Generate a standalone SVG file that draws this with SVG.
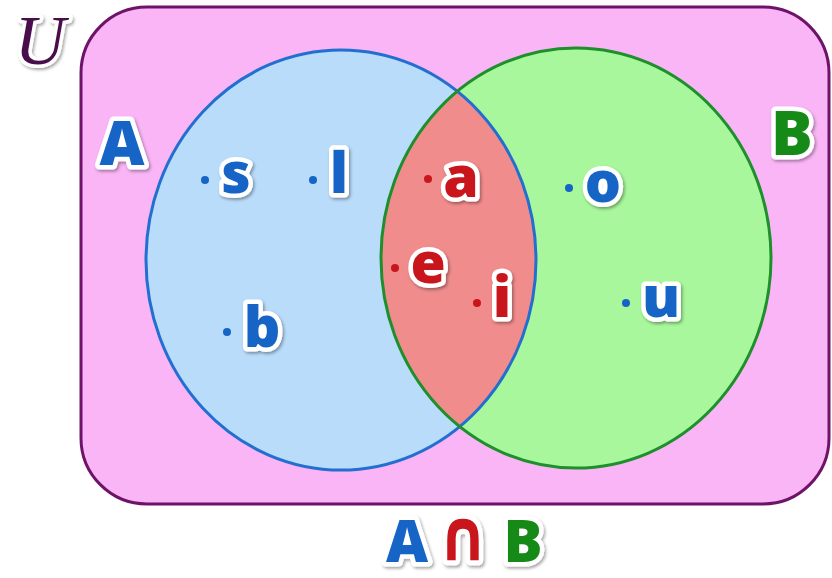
<svg xmlns="http://www.w3.org/2000/svg" width="832" height="578" viewBox="0 0 832 578">
<defs>
<filter id="sh" x="-30%" y="-30%" width="160%" height="160%">
<feDropShadow dx="1.5" dy="2" stdDeviation="1.5" flood-color="#000" flood-opacity="0.35"/>
</filter>
<clipPath id="clipA"><ellipse cx="341" cy="260" rx="195" ry="210"/></clipPath>
</defs>
<style>
.lbl{font-family:"Open Sans","Liberation Sans",sans-serif;font-weight:800;text-anchor:middle;paint-order:stroke;stroke:#fff;stroke-width:9;stroke-linejoin:round;filter:url(#sh)}
.blue{fill:#1565c6}
.red{fill:#c8161c}
.green{fill:#158a18}
.dotb{fill:#1565c6}
.dotr{fill:#c8161c}
</style>
<rect x="81" y="7" width="748" height="497" rx="66" ry="66" fill="#f9b5f5" stroke="#6e1468" stroke-width="3"/>
<g id="U"><text x="40" y="64" font-family="Liberation Serif,serif" font-style="italic" font-size="70" text-anchor="middle" fill="#4a0b4c" stroke="#fff" stroke-width="7" paint-order="stroke" stroke-linejoin="round" filter="url(#sh)">U</text></g>
<g id="setA"><ellipse cx="341" cy="260" rx="195" ry="210" fill="#b9dcfb"/></g>
<g id="setB"><ellipse cx="576" cy="258" rx="195" ry="210" fill="#a8f79c"/></g>
<g id="lens"><ellipse cx="576" cy="258" rx="195" ry="210" fill="#f18c8c" clip-path="url(#clipA)"/></g>
<g id="outlines" fill="none" stroke-width="3">
<ellipse cx="341" cy="260" rx="195" ry="210" stroke="#236fd0"/>
<ellipse cx="576" cy="258" rx="195" ry="210" stroke="#1d8f2b"/>
</g>
<g id="labelA"><text class="lbl blue" x="122" y="165" font-size="62">A</text></g>
<g id="labelB"><text class="lbl green" x="792" y="155" font-size="62">B</text></g>
<g id="s"><circle class="dotb" cx="205" cy="180" r="4"/><text class="lbl blue" x="236" y="193" font-size="57">s</text></g>
<g id="l"><circle class="dotb" cx="313" cy="180" r="4"/><text class="lbl blue" x="339" y="193" font-size="57">l</text></g>
<g id="b"><circle class="dotb" cx="227" cy="332" r="4"/><text class="lbl blue" x="262" y="347" font-size="57">b</text></g>
<g id="a"><circle class="dotr" cx="428" cy="179" r="4"/><text class="lbl red" x="461" y="197" font-size="57">a</text></g>
<g id="e"><circle class="dotr" cx="395" cy="268" r="4"/><text class="lbl red" x="428" y="283" font-size="57">e</text></g>
<g id="i"><circle class="dotr" cx="477" cy="303" r="4"/><text class="lbl red" x="502" y="317" font-size="57">i</text></g>
<g id="o"><circle class="dotb" cx="569" cy="188" r="4"/><text class="lbl blue" x="603" y="202" font-size="57">o</text></g>
<g id="u"><circle class="dotb" cx="626" cy="303" r="4"/><text class="lbl blue" x="661" y="317" font-size="57">u</text></g>
<g id="caption">
<text class="lbl blue" x="407" y="562" font-size="58">A</text>
<text class="lbl red" transform="translate(463,560) scale(1,1.15)" x="0" y="0" font-size="62" style="font-family:'DejaVu Sans',sans-serif;font-weight:700">∩</text>
<text class="lbl green" x="523" y="562" font-size="58">B</text>
</g>
</svg>
